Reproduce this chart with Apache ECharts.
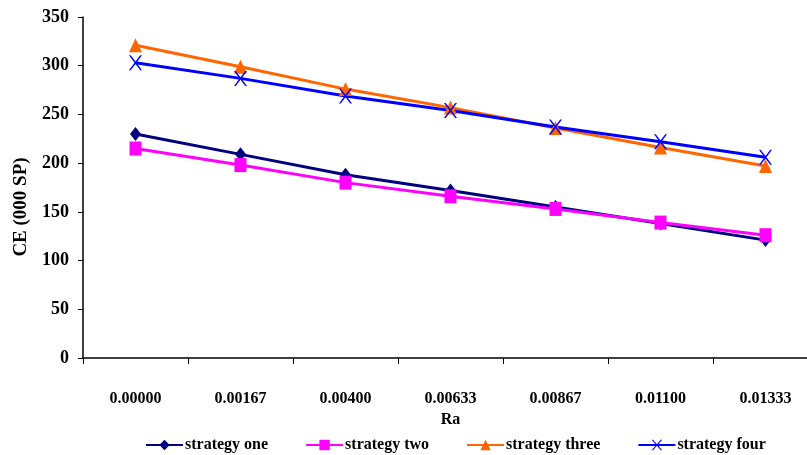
<!DOCTYPE html>
<html>
<head>
<meta charset="utf-8">
<script src="https://cdn.jsdelivr.net/npm/echarts@6/dist/echarts.min.js"></script>
<style>
  html, body { margin: 0; padding: 0; background: #fff; overflow: hidden; }
  /* plot runs past the right edge of the window, so the canvas is a bit wider */
  #chart { width: 818px; height: 455px; }
</style>
</head>
<body>
<div id="chart"></div>
<script>
// Ra values along the horizontal axis
const categories = ['0.00000', '0.00167', '0.00400', '0.00633', '0.00867', '0.01100', '0.01333'];

// CE (000 SP) for each strategy
const strategyOne   = [230, 209, 188, 172, 155, 138, 121];
const strategyTwo   = [215, 198, 180, 166, 153, 139, 126];
const strategyThree = [321, 299, 276, 257, 236, 216, 197];
const strategyFour  = [303, 287, 269, 254, 237, 222, 206];

const yTicks = { min: 0, max: 350, interval: 50 };

const serif = '"Liberation Serif", "Times New Roman", serif';
const crossPath = 'path://M0,0 L1.6,0 L6,5 L10.4,0 L12,0 L6.9,6 L12,12 L10.4,12 L6,7 L1.6,12 L0,12 L5.1,6 Z';

function lineSeries(name, data, color, symbol, size) {
  return {
    name: name,
    type: 'line',
    data: data,
    symbol: symbol,
    symbolSize: size,
    showAllSymbol: true,
    lineStyle: { color: color, width: 3 },
    itemStyle: { color: color, borderWidth: 0 },
    emphasis: { disabled: true },
    animation: false
  };
}

const chart = echarts.init(document.getElementById('chart'), null, { renderer: 'canvas' });
chart.setOption({
  backgroundColor: '#fff',
  animation: false,
  grid: { left: 83, top: 17, width: 735, height: 341 },
  legend: {
    left: 140,
    top: 432,
    itemWidth: 37,
    itemHeight: 13,
    itemGap: 37,
    textStyle: { fontFamily: serif, fontWeight: 'bold', fontSize: 16, color: '#000', padding: [0, 0, 0, -3] },
    data: ['strategy one', 'strategy two', 'strategy three', 'strategy four']
  },
  xAxis: {
    type: 'category',
    data: categories,
    boundaryGap: true,
    name: 'Ra',
    nameLocation: 'middle',
    nameGap: 51,
    nameTextStyle: { fontFamily: serif, fontWeight: 'bold', fontSize: 16, color: '#000' },
    axisLine: { show: true, lineStyle: { color: '#000', width: 1.5 } },
    axisTick: { show: true, length: 6, interval: 0, lineStyle: { color: '#000', width: 1 } },
    axisLabel: { margin: 33, interval: 0, fontFamily: serif, fontWeight: 'bold', fontSize: 16, color: '#000' },
    splitLine: { show: false }
  },
  yAxis: {
    type: 'value',
    min: yTicks.min,
    max: yTicks.max,
    interval: yTicks.interval,
    axisLine: { show: true, lineStyle: { color: '#000', width: 1.5 } },
    axisTick: { show: true, length: 5, lineStyle: { color: '#000', width: 1 } },
    axisLabel: { margin: 14, fontFamily: serif, fontWeight: 'bold', fontSize: 18, color: '#000' },
    splitLine: { show: false }
  },
  graphic: [{
    type: 'text',
    x: 21,
    y: 207,
    rotation: Math.PI / 2,
    style: {
      text: 'CE (000 SP)',
      fontFamily: serif,
      fontWeight: 'bold',
      fontSize: 19,
      fill: '#000',
      align: 'center',
      verticalAlign: 'middle'
    }
  }],
  series: [
    lineSeries('strategy one', strategyOne, '#000080', 'diamond', [11, 14]),
    lineSeries('strategy two', strategyTwo, '#FF00FF', 'rect', [12, 14]),
    lineSeries('strategy three', strategyThree, '#FF6600', 'triangle', [13, 14]),
    lineSeries('strategy four', strategyFour, '#0000FF', crossPath, [13, 15])
  ]
});
</script>
</body>
</html>
